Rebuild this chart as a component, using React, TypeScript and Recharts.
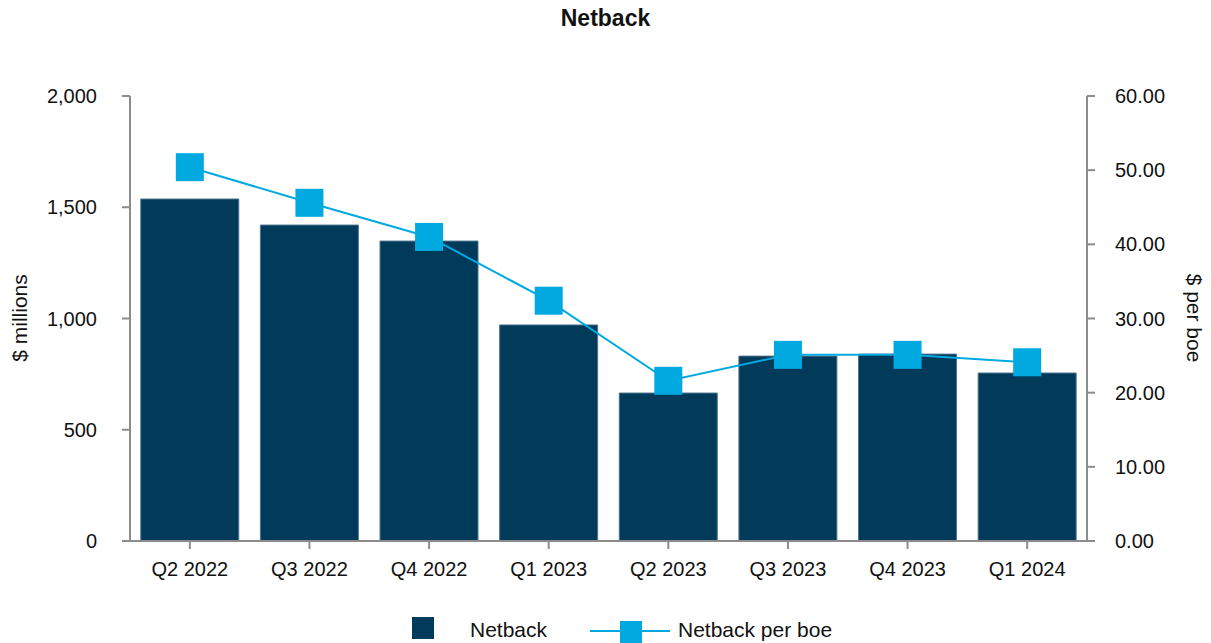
import React from "react";
import {
  ComposedChart,
  Bar,
  Line,
  XAxis,
  YAxis,
  Legend,
} from "recharts";

const quarters = [
  "Q2 2022",
  "Q3 2022",
  "Q4 2022",
  "Q1 2023",
  "Q2 2023",
  "Q3 2023",
  "Q4 2023",
  "Q1 2024",
];
const netback = [1537, 1420, 1348, 971, 665, 831, 840, 755];
const netbackPerBoe = [50.4, 45.6, 41.0, 32.4, 21.6, 25.1, 25.1, 24.1];

const leftTicks = [0, 500, 1000, 1500, 2000];
const rightTicks = [0, 10, 20, 30, 40, 50, 60];

const BAR_COLOR = "#023a5a";
const LINE_COLOR = "#00a9e0";
const AXIS_COLOR = "#8c8c8c";
const TEXT_COLOR = "#111";
const FONT = "'Liberation Sans', Arial, sans-serif";

const data = quarters.map((q, i) => ({
  quarter: q,
  netback: netback[i],
  perBoe: netbackPerBoe[i],
}));

const SquareDot = (props: any) => {
  const { cx, cy, index } = props;
  if (cx == null || cy == null) return null;
  return (
    <rect
      key={"dot-" + index}
      x={cx - 14}
      y={cy - 14}
      width={28}
      height={28}
      fill={LINE_COLOR}
    />
  );
};

// legend drawn by hand so the spacing matches the original
const LegendContent = () => (
  <div
    style={{
      position: "relative",
      height: 52,
      fontFamily: FONT,
      fontSize: 21,
      color: TEXT_COLOR,
    }}
  >
    <div
      style={{
        position: "absolute",
        left: 412,
        top: 26,
        width: 22,
        height: 22,
        background: BAR_COLOR,
      }}
    />
    <span style={{ position: "absolute", left: 470, top: 27, whiteSpace: "nowrap" }}>
      Netback
    </span>
    <svg
      style={{ position: "absolute", left: 590, top: 26 }}
      width={80}
      height={26}
    >
      <line x1={0} y1={14} x2={80} y2={14} stroke={LINE_COLOR} strokeWidth={2} />
      <rect x={30} y={4} width={22} height={22} fill={LINE_COLOR} />
    </svg>
    <span style={{ position: "absolute", left: 678, top: 27, whiteSpace: "nowrap" }}>
      Netback per boe
    </span>
  </div>
);

const tickStyle = { fill: TEXT_COLOR, fontSize: 20, fontFamily: FONT };

export default function App() {
  return (
    <div
      style={{
        position: "absolute",
        left: 0,
        top: 0,
        width: 1211,
        height: 643,
        background: "#fff",
        fontFamily: FONT,
        color: TEXT_COLOR,
      }}
    >
      <div
        style={{
          position: "absolute",
          top: 5,
          left: 0,
          width: 1211,
          textAlign: "center",
          fontWeight: "bold",
          fontSize: 23,
        }}
      >
        Netback
      </div>
      <div
        style={{
          position: "absolute",
          left: 20,
          top: 318,
          transform: "translate(-50%, -50%) rotate(-90deg)",
          whiteSpace: "nowrap",
          fontSize: 21,
        }}
      >
        $ millions
      </div>
      <div
        style={{
          position: "absolute",
          left: 1194,
          top: 318,
          transform: "translate(-50%, -50%) rotate(90deg)",
          whiteSpace: "nowrap",
          fontSize: 21,
        }}
      >
        $ per boe
      </div>
      <ComposedChart
        width={1211}
        height={643}
        data={data}
        margin={{ top: 96, right: 0, bottom: 0, left: 0 }}
        barCategoryGap="9%"
      >
        <XAxis
          dataKey="quarter"
          axisLine={{ stroke: AXIS_COLOR, strokeWidth: 2 }}
          tickLine={{ stroke: AXIS_COLOR, strokeWidth: 2 }}
          tickSize={8}
          tickMargin={13}
          height={50}
          tick={tickStyle}
          interval={0}
        />
        <YAxis
          yAxisId="left"
          orientation="left"
          domain={[0, 2000]}
          ticks={leftTicks}
          width={130}
          tickFormatter={(v: number) => v.toLocaleString("en-US")}
          axisLine={{ stroke: AXIS_COLOR, strokeWidth: 2 }}
          tickLine={{ stroke: AXIS_COLOR, strokeWidth: 2 }}
          tickSize={8}
          tickMargin={25}
          tick={tickStyle}
        />
        <YAxis
          yAxisId="right"
          orientation="right"
          domain={[0, 60]}
          ticks={rightTicks}
          width={124}
          tickFormatter={(v: number) => v.toFixed(2)}
          axisLine={{ stroke: AXIS_COLOR, strokeWidth: 2 }}
          tickLine={{ stroke: AXIS_COLOR, strokeWidth: 2 }}
          tickSize={8}
          tickMargin={20}
          tick={tickStyle}
        />
        <Legend verticalAlign="bottom" height={52} content={<LegendContent />} />
        <Bar
          yAxisId="left"
          dataKey="netback"
          name="Netback"
          fill={BAR_COLOR}
          stroke="#4f7590"
          strokeWidth={1}
          isAnimationActive={false}
        />
        <Line
          yAxisId="right"
          dataKey="perBoe"
          name="Netback per boe"
          stroke={LINE_COLOR}
          strokeWidth={2}
          dot={<SquareDot />}
          activeDot={false}
          isAnimationActive={false}
        />
      </ComposedChart>
    </div>
  );
}
